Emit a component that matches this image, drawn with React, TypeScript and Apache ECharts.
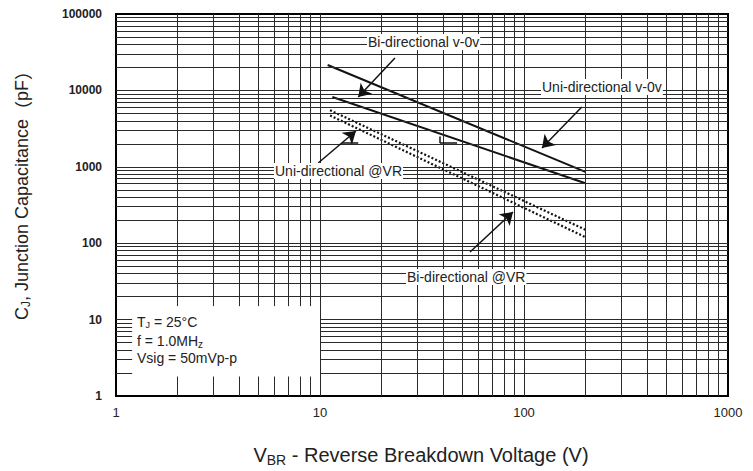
import React, { useEffect, useRef } from "react";
import * as echarts from "echarts";

// ---- data ----
const xTickLabels = ["1", "10", "100", "1000"];
const yTickLabels = ["1", "10", "100", "1000", "10000", "100000"];
const uniV0 = [[10.9, 21500], [200, 860]];
const biV0 = [[11.5, 8200], [200, 610]];
const uniVR = [[11.2, 5500], [200, 150]];
const biVR = [[11.2, 4700], [200, 120]];
// annotation arrows: [tail, tip] in data coords
const arrowBiV0 = [[23.3, 26500], [15.4, 8200]];
const arrowUniV0 = [[192, 6070], [122.5, 1762]];
const arrowUniVR = [[9.8, 1122], [15.0, 2943]];
const arrowBiVR = [[54.4, 76.7], [88.3, 256]];
// small drafting marks
const marks = [
  [[12.8, 2050], [15.4, 2050]],
  [[38.7, 2050], [47, 2050]],
  [[38.7, 2500], [38.7, 2050]],
];
const gridMultipliers = [1, 2, 3, 4, 5, 6, 7, 8, 9];

const FONT = "'Liberation Sans', Arial, Helvetica, sans-serif";
const CJK = "'Noto Sans CJK SC', 'Noto Sans CJK JP', sans-serif";

function buildGrid() {
  const segs: any[] = [];
  for (let k = 0; k < 3; k++) {
    for (const m of gridMultipliers) {
      const x = m * Math.pow(10, k);
      if (x === 1) continue;
      if (k === 0) {
        segs.push([{ coord: [x, 100000] }, { coord: [x, 15] }]);
        segs.push([{ coord: [x, 1] }, { coord: [x, 1.8] }]);
      } else {
        segs.push([{ coord: [x, 1] }, { coord: [x, 100000] }]);
      }
    }
  }
  for (let k = 0; k < 5; k++) {
    for (const m of gridMultipliers) {
      const y = m * Math.pow(10, k);
      if (y === 1) continue;
      if (y <= 10) {
        segs.push([{ coord: [1, y] }, { coord: [1.2, y] }]);
        segs.push([{ coord: [10, y] }, { coord: [1000, y] }]);
      } else {
        segs.push([{ coord: [1, y] }, { coord: [1000, y] }]);
      }
    }
  }
  return segs;
}

const toSeg = (p: number[][]) => [{ coord: p[0] }, { coord: p[1] }];

export default function App() {
  const ref = useRef<HTMLDivElement>(null);
  useEffect(() => {
    if (!ref.current) return;
    const chart = echarts.init(ref.current, undefined, { renderer: "svg" });
    const solid = { color: "#111", width: 2, type: "solid" as const };
    const dotted = { color: "#111", width: 2.2, type: [2, 2] as any };
    const labelText = (text: string, x: number, y: number) => ({
      type: "text",
      x,
      y,
      z: 50,
      style: {
        text,
        fontFamily: FONT,
        fontSize: 14,
        fill: "#222",
        textVerticalAlign: "middle",
        backgroundColor: "#fff",
        padding: [1, 1],
      },
    });
    chart.setOption({
      animation: false,
      backgroundColor: "#fff",
      grid: {
        left: 116,
        top: 14,
        right: 25,
        bottom: 75,
        show: true,
        borderColor: "#000",
        borderWidth: 2,
        backgroundColor: "transparent",
      },
      xAxis: {
        type: "log",
        logBase: 10,
        min: 1,
        max: 1000,
        axisLine: { show: true, lineStyle: { color: "#000", width: 2 } },
        axisTick: { show: false },
        splitLine: { show: false },
        minorTick: { show: false },
        axisLabel: {
          margin: 10,
          fontFamily: FONT,
          fontSize: 13,
          color: "#222",
          formatter: (v: number) => xTickLabels[Math.round(Math.log10(v))] ?? "",
        },
      },
      yAxis: {
        type: "log",
        logBase: 10,
        min: 1,
        max: 100000,
        axisLine: { show: true, lineStyle: { color: "#000", width: 2 } },
        axisTick: { show: false },
        splitLine: { show: false },
        axisLabel: {
          margin: 14,
          fontFamily: FONT,
          fontSize: 12,
          fontWeight: "bold",
          color: "#222",
          formatter: (v: number) => yTickLabels[Math.round(Math.log10(v))] ?? "",
        },
      },
      series: [
        {
          type: "line",
          data: [],
          z: 1,
          silent: true,
          markLine: {
            silent: true,
            symbol: ["none", "none"],
            label: { show: false },
            lineStyle: { color: "#2a2a2a", width: 1, type: "solid" },
            emphasis: { disabled: true },
            data: buildGrid(),
          },
        },
        { type: "line", name: "Uni-directional v-0v", data: uniV0, showSymbol: false, symbol: "none", lineStyle: solid, z: 4 },
        { type: "line", name: "Bi-directional v-0v", data: biV0, showSymbol: false, symbol: "none", lineStyle: solid, z: 4 },
        { type: "line", name: "Uni-directional @VR", data: uniVR, showSymbol: false, symbol: "none", lineStyle: dotted, z: 4 },
        { type: "line", name: "Bi-directional @VR", data: biVR, showSymbol: false, symbol: "none", lineStyle: dotted, z: 4 },
        {
          type: "line",
          data: [],
          z: 6,
          silent: true,
          markLine: {
            silent: true,
            symbol: ["none", "arrow"],
            symbolSize: 12,
            label: { show: false },
            lineStyle: { color: "#111", width: 1.5, type: "solid" },
            emphasis: { disabled: true },
            data: [toSeg(arrowBiV0), toSeg(arrowUniV0), toSeg(arrowUniVR), toSeg(arrowBiVR)],
          },
        },
        {
          type: "line",
          data: [],
          z: 6,
          silent: true,
          markLine: {
            silent: true,
            symbol: ["none", "none"],
            label: { show: false },
            lineStyle: { color: "#111", width: 1.5, type: "solid" },
            emphasis: { disabled: true },
            data: marks.map(toSeg),
          },
        },
      ],
      graphic: [
        labelText("Bi-directional v-0v", 367, 42),
        labelText("Uni-directional v-0v", 541, 87),
        labelText("Uni-directional @VR", 274, 171),
        labelText("Bi-directional @VR", 406, 277),
        {
          type: "text",
          x: 137,
          y: 322,
          z: 50,
          style: {
            text: "T{sub|J} = 25°C",
            fontFamily: FONT,
            fontSize: 14,
            fill: "#222",
            textVerticalAlign: "middle",
            rich: { sub: { fontFamily: FONT, fontSize: 9, fill: "#222", padding: [5, 0, 0, 0] } },
          },
        },
        {
          type: "text",
          x: 137,
          y: 341,
          z: 50,
          style: {
            text: "f = 1.0MH{sub|z}",
            fontFamily: FONT,
            fontSize: 14,
            fill: "#222",
            textVerticalAlign: "middle",
            rich: { sub: { fontFamily: FONT, fontSize: 10, fill: "#222", padding: [6, 0, 0, 0] } },
          },
        },
        {
          type: "text",
          x: 137,
          y: 358,
          z: 50,
          style: {
            text: "Vsig = 50mVp-p",
            fontFamily: FONT,
            fontSize: 14,
            fill: "#222",
            textVerticalAlign: "middle",
          },
        },
        {
          type: "text",
          x: 421,
          y: 455,
          z: 50,
          style: {
            text: "V{sub|BR} - Reverse Breakdown Voltage (V)",
            fontFamily: FONT,
            fontSize: 20,
            fill: "#222",
            textAlign: "center",
            textVerticalAlign: "middle",
            rich: { sub: { fontFamily: FONT, fontSize: 14, fill: "#222", padding: [10, 0, 0, 0] } },
          },
        },
        {
          type: "text",
          x: 22,
          y: 191,
          rotation: Math.PI / 2,
          z: 50,
          style: {
            text: "C{sub|J}, Junction Capacitance{cjk|（}pF{cjk|）}",
            fontFamily: FONT,
            fontSize: 18,
            fill: "#222",
            textAlign: "center",
            textVerticalAlign: "middle",
            rich: {
              sub: {
                fontFamily: FONT,
                fontSize: 12,
                fill: "#222",
                padding: [8, 0, 0, 0],
              },
              cjk: {
                fontFamily: CJK,
                fontSize: 18,
                fill: "#222",
              },
            },
          },
        },
      ],
    });
    return () => chart.dispose();
  }, []);
  return <div ref={ref} style={{ width: 753, height: 471, position: "absolute", left: 0, top: 0 }} />;
}
